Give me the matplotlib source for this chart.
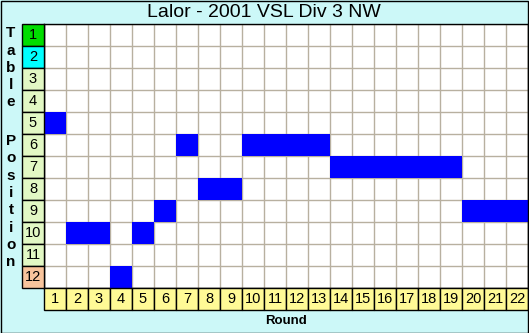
import matplotlib
matplotlib.use("Agg")
import matplotlib.pyplot as plt
from matplotlib.patches import Rectangle
import numpy as np

title = "Lalor - 2001 VSL Div 3 NW"
rounds = list(range(1, 23))
positions = [5, 10, 10, 12, 10, 9, 6, 8, 8, 6, 6, 6, 6, 7, 7, 7, 7, 7, 7, 9, 9, 9]
table_positions = list(range(1, 13))
pos_colors = ["#00DD00", "#00FFFF"] + ["#E2F8C4"] * 9 + ["#F8C49C"]

W, H = 529, 333
fig = plt.figure(figsize=(W / 100, H / 100), dpi=100)
fig.patch.set_facecolor("#CCF8F8")
plt.rcParams['font.family'] = ['Liberation Sans', 'DejaVu Sans']

ax = fig.add_axes([44 / W, (H - 288) / H, 484 / W, 264 / H])
ax.set_facecolor("white")
ax.set_xlim(0.5, 22.5)
ax.set_ylim(12.5, 0.5)
ax.set_xticks(np.arange(0.5, 23, 1))
ax.set_yticks(np.arange(0.5, 13, 1))
ax.tick_params(length=0, labelbottom=False, labelleft=False)
ax.grid(True, color="#B8B0A0", linewidth=1)
ax.set_axisbelow(True)
for s in ax.spines.values():
    s.set_color("black")
    s.set_linewidth(1)

ax.bar(rounds, 1, bottom=np.array(positions) - 0.5, width=1, color="#0000FF", zorder=3)

for p, c in zip(table_positions, pos_colors):
    ax.add_patch(Rectangle((-0.5, p - 0.5), 1, 1, facecolor=c, edgecolor="black",
                           linewidth=1, clip_on=False, zorder=4))
    ax.text(0, p, str(p), ha="center", va="center", fontsize=10.5, clip_on=False, zorder=5)

for r in rounds:
    ax.add_patch(Rectangle((r - 0.5, 12.5), 1, 1, facecolor="#FFFA96", edgecolor="black",
                           linewidth=1, clip_on=False, zorder=4))
    ax.text(r, 13, str(r), ha="center", va="center", fontsize=10.5, clip_on=False, zorder=5)

fig.text(264 / W, 1 - 12.5 / H, title, ha="center", va="center", fontsize=14)
fig.text(286 / W, 1 - 321 / H, "Round", ha="center", va="center", fontsize=9.5, fontweight="bold")

label = "Table Position"
ys = [33, 51, 68, 85, 102, None, 141, 158, 176, 193, 210, 228, 245, 262]
for ch, y in zip(label, ys):
    if y is None:
        continue
    fig.text(11 / W, 1 - y / H, ch, ha="center", va="center", fontsize=11, fontweight="bold")

fig.add_artist(Rectangle((0.5 / W, 0.5 / H), (W - 1.5) / W, (H - 1.5) / H, transform=fig.transFigure,
                         facecolor="none", edgecolor="black", linewidth=1))

fig.savefig("out.png", dpi=100, facecolor=fig.get_facecolor())
